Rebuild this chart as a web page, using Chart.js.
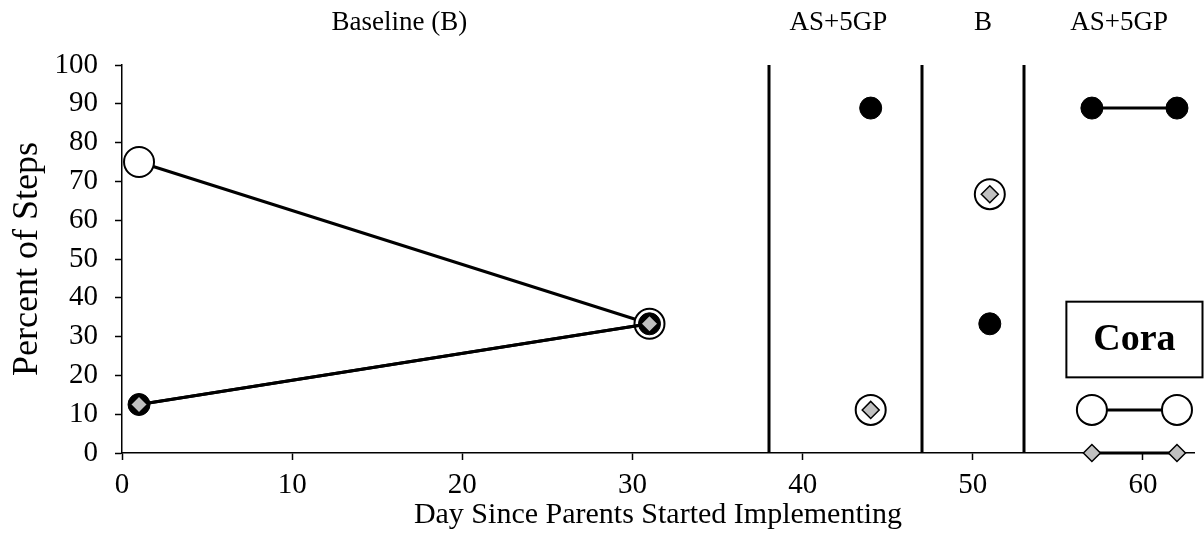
<!DOCTYPE html>
<html>
<head>
<meta charset="utf-8">
<script src="https://cdn.jsdelivr.net/npm/chart.js@4.4.0/dist/chart.umd.min.js"></script>
<style>
  html, body { margin: 0; padding: 0; background: #fff; }
  #wrap { width: 1204px; height: 555px; }
</style>
</head>
<body>
<div id="wrap"><canvas id="chart"></canvas></div>
<script>
// data (null y = break between phases)
let days        = [1, 31, 35, 44, 48, 51, 55, 57, 62];
let whiteSeries = [75, 33.3, null, 11.1, null, 66.7, null, 11.1, 11.1];
let blackSeries = [12.5, 33.3, null, 88.9, null, 33.3, null, 88.9, 88.9];
let greySeries  = [12.5, 33.3, null, 11.1, null, 66.7, null, 0, 0];

let phaseLines  = [38, 47, 53];
let phaseNames  = ['Baseline (B)', 'AS+5GP', 'B', 'AS+5GP'];
let phaseLabelX = [16.3, 42.1, 50.6, 58.6];
let xTicks      = [0, 10, 20, 30, 40, 50, 60];
let yTicks      = [0, 10, 20, 30, 40, 50, 60, 70, 80, 90, 100];
let participant = 'Cora';

let toPoints = (ys) => days.map((d, i) => ({x: d, y: ys[i]}));

const serif = "'Liberation Serif', 'Times New Roman', serif";

// phase change lines, phase names and participant box
let phasePlugin = {
    id: 'phases',
    beforeDatasetsDraw(chart) {
        const ctx = chart.ctx, xs = chart.scales.x, area = chart.chartArea;
        ctx.save();
        ctx.strokeStyle = '#000';
        ctx.lineWidth = 3;
        phaseLines.forEach(v => {
            const px = Math.round(xs.getPixelForValue(v));
            ctx.beginPath();
            ctx.moveTo(px, area.top);
            ctx.lineTo(px, area.bottom);
            ctx.stroke();
        });
        ctx.restore();
    },
    afterDraw(chart) {
        const ctx = chart.ctx, xs = chart.scales.x, ys = chart.scales.y;
        ctx.save();
        ctx.fillStyle = '#000';
        ctx.font = '27px ' + serif;
        ctx.textAlign = 'center';
        ctx.textBaseline = 'middle';
        phaseNames.forEach((name, i) => {
            ctx.fillText(name, xs.getPixelForValue(phaseLabelX[i]), 23);
        });
        // name box
        const left = xs.getPixelForValue(55.5);
        const top = ys.getPixelForValue(39);
        const bottom = ys.getPixelForValue(19.5);
        const right = chart.width - 1.5;
        ctx.fillStyle = '#fff';
        ctx.fillRect(left, top, right - left, bottom - top);
        ctx.strokeStyle = '#000';
        ctx.lineWidth = 2;
        ctx.strokeRect(left, top, right - left, bottom - top);
        ctx.fillStyle = '#000';
        ctx.font = 'bold 38px ' + serif;
        ctx.fillText(participant, (left + right) / 2, (top + bottom) / 2 + 1);
        ctx.restore();
    }
};

new Chart(document.getElementById('chart'), {
    type: 'scatter',
    data: {
        datasets: [
            {
                label: 'grey',
                data: toPoints(greySeries),
                showLine: true,
                spanGaps: false,
                borderColor: '#000',
                borderWidth: 3,
                pointStyle: 'rectRot',
                pointRadius: 8.5,
                pointBackgroundColor: '#c0c0c0',
                pointBorderColor: '#000',
                pointBorderWidth: 1.5,
                clip: false,
                order: 0
            },
            {
                label: 'black',
                data: toPoints(blackSeries),
                showLine: true,
                spanGaps: false,
                borderColor: '#000',
                borderWidth: 3,
                pointStyle: 'circle',
                pointRadius: 11,
                pointBackgroundColor: '#000',
                pointBorderColor: '#000',
                pointBorderWidth: 1,
                clip: false,
                order: 1
            },
            {
                label: 'white',
                data: toPoints(whiteSeries),
                showLine: true,
                spanGaps: false,
                borderColor: '#000',
                borderWidth: 3,
                pointStyle: 'circle',
                pointRadius: 15,
                pointBackgroundColor: '#fff',
                pointBorderColor: '#000',
                pointBorderWidth: 2,
                clip: false,
                order: 2
            }
        ]
    },
    options: {
        responsive: true,
        maintainAspectRatio: false,
        animation: false,
        layout: { autoPadding: false, padding: { top: 65, right: 10, left: 0, bottom: 0 } },
        plugins: {
            legend: { display: false },
            tooltip: { enabled: false }
        },
        scales: {
            x: {
                type: 'linear',
                min: 0,
                max: 63,
                afterBuildTicks: (scale) => { scale.ticks = xTicks.map(v => ({value: v})); },
                afterFit: (scale) => { scale.height = 102; scale.paddingLeft = 0; scale.paddingRight = 0; },
                border: { display: true, color: '#000', width: 1.5 },
                grid: { display: true, drawOnChartArea: false, drawTicks: true, tickLength: 7, tickColor: '#000', tickWidth: 1.5 },
                ticks: { color: '#000', padding: 8, maxRotation: 0, font: { family: serif, size: 29 } },
                title: {
                    display: true,
                    text: 'Day Since Parents Started Implementing',
                    color: '#000',
                    font: { family: serif, size: 30 },
                    padding: { top: 0, bottom: 22 }
                }
            },
            y: {
                type: 'linear',
                min: 0,
                max: 100,
                afterBuildTicks: (scale) => { scale.ticks = yTicks.map(v => ({value: v})); },
                afterFit: (scale) => { scale.width = 122; scale.paddingTop = 0; scale.paddingBottom = 0; },
                border: { display: true, color: '#000', width: 1.5 },
                grid: { display: true, drawOnChartArea: false, drawTicks: true, tickLength: 7, tickColor: '#000', tickWidth: 1.5 },
                ticks: { color: '#000', padding: 17, font: { family: serif, size: 29 } },
                title: {
                    display: true,
                    text: 'Percent of Steps',
                    color: '#000',
                    font: { family: serif, size: 36 },
                    padding: { top: 6, bottom: 0 }
                }
            }
        }
    },
    plugins: [phasePlugin]
});
</script>
</body>
</html>
